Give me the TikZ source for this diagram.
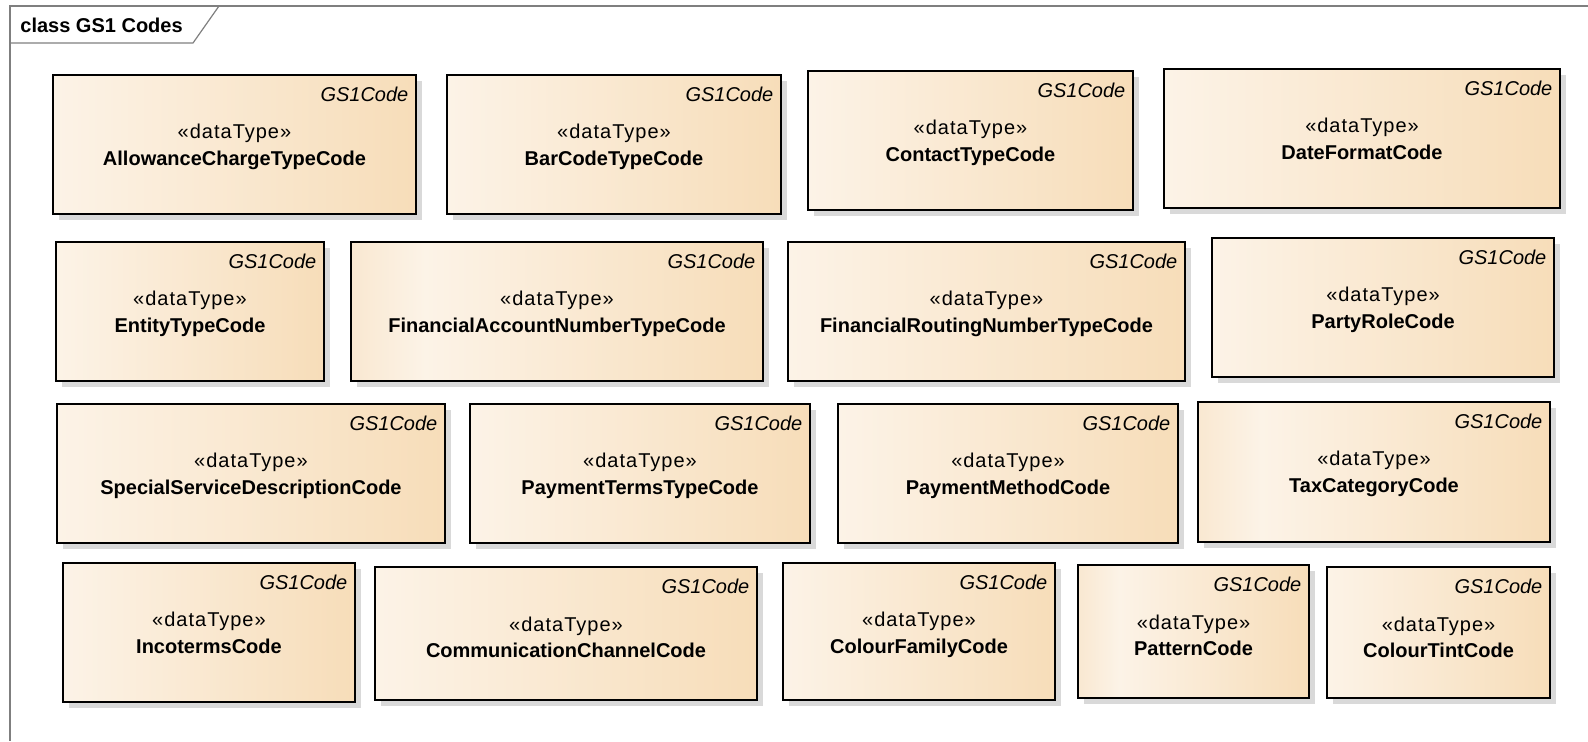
\documentclass[tikz,border=0pt]{standalone}
\usepackage{fontspec}
\setmainfont{Liberation Sans}
\newfontfamily\stereofont[LetterSpace=5]{Liberation Sans}
\usetikzlibrary{fit,shadows}
\definecolor{gsLight}{HTML}{FCF3E7}
\definecolor{gsMid}{HTML}{F9E8D1}
\definecolor{gsDark}{HTML}{F7DDB9}
\definecolor{gsShadow}{HTML}{D9D9D9}
\definecolor{frameGrey}{HTML}{7F7F7F}
\pgfdeclarehorizontalshading{gsplain}{100bp}{color(0bp)=(gsLight); color(25bp)=(gsLight); color(75bp)=(gsDark); color(100bp)=(gsDark)}
\pgfdeclarehorizontalshading{gsdarkleft}{100bp}{color(0bp)=(gsDark); color(25bp)=(gsMid); color(34bp)=(gsLight); color(75bp)=(gsDark); color(100bp)=(gsDark)}

\begin{document}
\begin{tikzpicture}[x=0.5pt,y=-0.5pt,font=\fontsize{10}{12}\selectfont]
\tikzstyle{diagframe}=[draw=frameGrey,line width=0.6pt]
\tikzstyle{dtype}=[draw=black,line width=0.75pt,inner sep=0pt,shade,shading=gsplain,
  drop shadow={shadow xshift=3pt,shadow yshift=-3pt,fill=gsShadow,opacity=1}]
\tikzstyle{darkleft}=[shading=gsdarkleft]
\tikzstyle{gstag}=[anchor=base east,inner sep=0pt,font=\fontsize{10}{12}\selectfont\itshape]
\tikzstyle{stereo}=[anchor=base,inner sep=0pt,font=\fontsize{10}{12}\stereofont]
\tikzstyle{cname}=[anchor=base,inner sep=0pt,font=\fontsize{10}{12}\selectfont\bfseries]

\useasboundingbox (0,0) rectangle (1588,741);

% diagram frame
\draw[diagframe] (1588,6) -- (10,6) -- (10,741);
\draw[diagframe] (10,43) -- (193,43) -- (219,6);
\node[anchor=base west,inner sep=0pt,font=\fontsize{10}{12}\selectfont\bfseries] (frame-title) at (20,32) {class GS1 Codes};

% first row
\node[dtype,fit={(53,75) (416,214)}] (allowance) {};
\node[gstag] (allowance-tag) at ([shift={(-8,27)}]allowance.north east) {GS1Code};
\node[stereo] (allowance-st) at ([shift={(0,64)}]allowance.north) {«dataType»};
\node[cname] (allowance-nm) at ([shift={(0,91)}]allowance.north) {AllowanceChargeTypeCode};

\node[dtype,fit={(447,75) (781,214)}] (barcode) {};
\node[gstag] (barcode-tag) at ([shift={(-8,27)}]barcode.north east) {GS1Code};
\node[stereo] (barcode-st) at ([shift={(0,64)}]barcode.north) {«dataType»};
\node[cname] (barcode-nm) at ([shift={(0,91)}]barcode.north) {BarCodeTypeCode};

\node[dtype,fit={(808,71) (1133,210)}] (contact) {};
\node[gstag] (contact-tag) at ([shift={(-8,27)}]contact.north east) {GS1Code};
\node[stereo] (contact-st) at ([shift={(0,64)}]contact.north) {«dataType»};
\node[cname] (contact-nm) at ([shift={(0,91)}]contact.north) {ContactTypeCode};

\node[dtype,fit={(1164,69) (1560,208)}] (dateformat) {};
\node[gstag] (dateformat-tag) at ([shift={(-8,27)}]dateformat.north east) {GS1Code};
\node[stereo] (dateformat-st) at ([shift={(0,64)}]dateformat.north) {«dataType»};
\node[cname] (dateformat-nm) at ([shift={(0,91)}]dateformat.north) {DateFormatCode};

% second row
\node[dtype,fit={(56,242) (324,381)}] (entity) {};
\node[gstag] (entity-tag) at ([shift={(-8,27)}]entity.north east) {GS1Code};
\node[stereo] (entity-st) at ([shift={(0,64)}]entity.north) {«dataType»};
\node[cname] (entity-nm) at ([shift={(0,91)}]entity.north) {EntityTypeCode};

\node[dtype,darkleft,fit={(351,242) (763,381)}] (finaccount) {};
\node[gstag] (finaccount-tag) at ([shift={(-8,27)}]finaccount.north east) {GS1Code};
\node[stereo] (finaccount-st) at ([shift={(0,64)}]finaccount.north) {«dataType»};
\node[cname] (finaccount-nm) at ([shift={(0,91)}]finaccount.north) {FinancialAccountNumberTypeCode};

\node[dtype,fit={(788,242) (1185,381)}] (finrouting) {};
\node[gstag] (finrouting-tag) at ([shift={(-8,27)}]finrouting.north east) {GS1Code};
\node[stereo] (finrouting-st) at ([shift={(0,64)}]finrouting.north) {«dataType»};
\node[cname] (finrouting-nm) at ([shift={(0,91)}]finrouting.north) {FinancialRoutingNumberTypeCode};

\node[dtype,fit={(1212,238) (1554,377)}] (partyrole) {};
\node[gstag] (partyrole-tag) at ([shift={(-8,27)}]partyrole.north east) {GS1Code};
\node[stereo] (partyrole-st) at ([shift={(0,64)}]partyrole.north) {«dataType»};
\node[cname] (partyrole-nm) at ([shift={(0,91)}]partyrole.north) {PartyRoleCode};

% third row
\node[dtype,fit={(57,404) (445,543)}] (special) {};
\node[gstag] (special-tag) at ([shift={(-8,27)}]special.north east) {GS1Code};
\node[stereo] (special-st) at ([shift={(0,64)}]special.north) {«dataType»};
\node[cname] (special-nm) at ([shift={(0,91)}]special.north) {SpecialServiceDescriptionCode};

\node[dtype,fit={(470,404) (810,543)}] (payterms) {};
\node[gstag] (payterms-tag) at ([shift={(-8,27)}]payterms.north east) {GS1Code};
\node[stereo] (payterms-st) at ([shift={(0,64)}]payterms.north) {«dataType»};
\node[cname] (payterms-nm) at ([shift={(0,91)}]payterms.north) {PaymentTermsTypeCode};

\node[dtype,fit={(838,404) (1178,543)}] (paymethod) {};
\node[gstag] (paymethod-tag) at ([shift={(-8,27)}]paymethod.north east) {GS1Code};
\node[stereo] (paymethod-st) at ([shift={(0,64)}]paymethod.north) {«dataType»};
\node[cname] (paymethod-nm) at ([shift={(0,91)}]paymethod.north) {PaymentMethodCode};

\node[dtype,darkleft,fit={(1198,402) (1550,542)}] (taxcat) {};
\node[gstag] (taxcat-tag) at ([shift={(-8,27)}]taxcat.north east) {GS1Code};
\node[stereo] (taxcat-st) at ([shift={(0,64)}]taxcat.north) {«dataType»};
\node[cname] (taxcat-nm) at ([shift={(0,91)}]taxcat.north) {TaxCategoryCode};

% fourth row
\node[dtype,fit={(63,563) (355,702)}] (incoterms) {};
\node[gstag] (incoterms-tag) at ([shift={(-8,27)}]incoterms.north east) {GS1Code};
\node[stereo] (incoterms-st) at ([shift={(0,64)}]incoterms.north) {«dataType»};
\node[cname] (incoterms-nm) at ([shift={(0,91)}]incoterms.north) {IncotermsCode};

\node[dtype,fit={(375,567) (757,700)}] (commchannel) {};
\node[gstag] (commchannel-tag) at ([shift={(-8,27)}]commchannel.north east) {GS1Code};
\node[stereo] (commchannel-st) at ([shift={(0,65)}]commchannel.north) {«dataType»};
\node[cname] (commchannel-nm) at ([shift={(0,91)}]commchannel.north) {CommunicationChannelCode};

\node[dtype,fit={(783,563) (1055,700)}] (colfamily) {};
\node[gstag] (colfamily-tag) at ([shift={(-8,27)}]colfamily.north east) {GS1Code};
\node[stereo] (colfamily-st) at ([shift={(0,64)}]colfamily.north) {«dataType»};
\node[cname] (colfamily-nm) at ([shift={(0,91)}]colfamily.north) {ColourFamilyCode};

\node[dtype,darkleft,fit={(1078,565) (1309,698)}] (pattern) {};
\node[gstag] (pattern-tag) at ([shift={(-8,27)}]pattern.north east) {GS1Code};
\node[stereo] (pattern-st) at ([shift={(0,65)}]pattern.north) {«dataType»};
\node[cname] (pattern-nm) at ([shift={(0,91)}]pattern.north) {PatternCode};

\node[dtype,fit={(1327,567) (1550,698)}] (coltint) {};
\node[gstag] (coltint-tag) at ([shift={(-8,27)}]coltint.north east) {GS1Code};
\node[stereo] (coltint-st) at ([shift={(0,65)}]coltint.north) {«dataType»};
\node[cname] (coltint-nm) at ([shift={(0,91)}]coltint.north) {ColourTintCode};
\end{tikzpicture}
\end{document}
